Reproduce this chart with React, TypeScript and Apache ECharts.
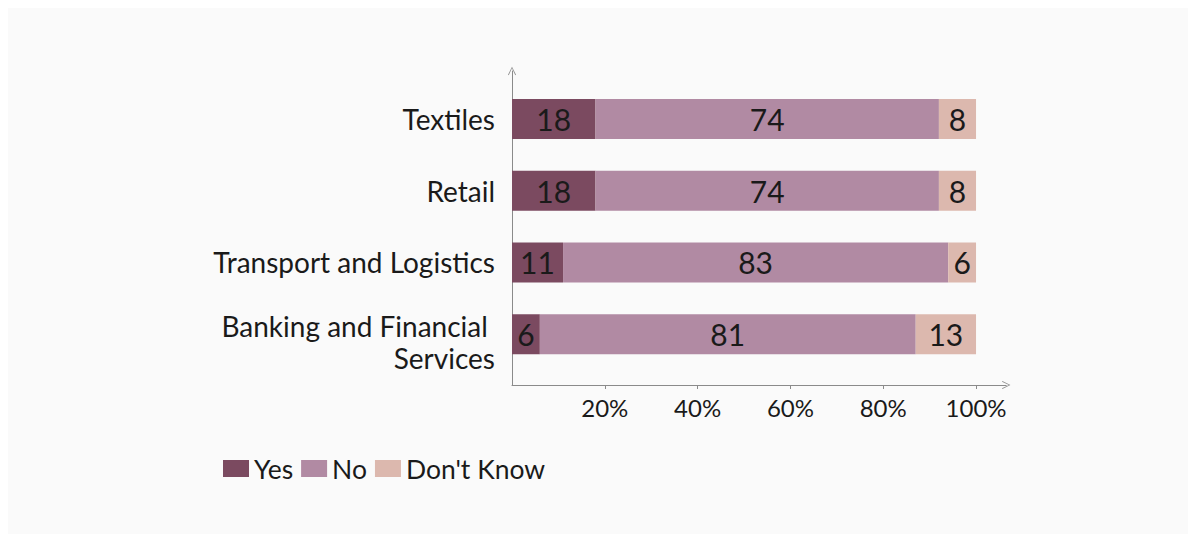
import React, { useEffect, useRef } from "react";
import * as echarts from "echarts";

const categories = ["Textiles", "Retail", "Transport and Logistics", "Banking and Financial \nServices"];
const yesValues = [18, 18, 11, 6];
const noValues = [74, 74, 83, 81];
const dontKnowValues = [8, 8, 6, 13];
const seriesNames = ["Yes", "No", "Don't Know"];
const xTickValues = [20, 40, 60, 80, 100];

const colors = ["#7b4a60", "#b18aa3", "#dcb8ae"];
const FONT = "Lato";
const AXIS_COLOR = "#8a8a8a";
const ARROW = "path://M0,10 L5,0 L10,10 L9.1,10.5 L5,1.9 L0.9,10.5 Z";

export default function App() {
  const ref = useRef<HTMLDivElement>(null);
  useEffect(() => {
    if (!ref.current) return;
    const chart = echarts.init(ref.current, null, { renderer: "svg" });
    const gridLeft = 504;
    const gridWidth = 494.2;
    const xMax = 106.5;
    const allValues = [yesValues, noValues, dontKnowValues];
    chart.setOption({
      animation: false,
      backgroundColor: "#fafafa",
      textStyle: { fontFamily: FONT },
      color: colors,
      grid: [
        { left: gridLeft, top: 75, width: gridWidth, height: 287 },
        { left: gridLeft, top: 63, width: gridWidth, height: 314 },
      ],
      legend: {
        data: seriesNames,
        left: 215,
        top: 447,
        padding: 0,
        icon: "rect",
        itemWidth: 26,
        itemHeight: 17,
        itemGap: 8,
        textStyle: { fontSize: 26.5, color: "#1a1a1a", fontFamily: FONT },
      },
      xAxis: [
        { gridIndex: 0, type: "value", min: 0, max: xMax, show: false },
        {
          gridIndex: 1,
          type: "value",
          min: 0,
          max: xMax,
          axisLine: {
            show: true,
            onZero: false,
            symbol: ["none", ARROW],
            symbolSize: [8, 10],
            lineStyle: { color: AXIS_COLOR, width: 1 },
          },
          axisTick: { show: true, length: 4, customValues: xTickValues, lineStyle: { color: AXIS_COLOR } },
          axisLabel: {
            customValues: xTickValues,
            formatter: "{value}%",
            fontSize: 24,
            color: "#1a1a1a",
            margin: 10,
            fontFamily: FONT,
          },
          splitLine: { show: false },
        },
        {
          gridIndex: 1,
          type: "value",
          min: 0,
          max: xMax,
          axisLine: { show: false },
          axisTick: { show: true, inside: true, length: 4, customValues: xTickValues, lineStyle: { color: AXIS_COLOR } },
          axisLabel: { show: false },
          splitLine: { show: false },
        },
      ],
      yAxis: [
        {
          gridIndex: 0,
          type: "category",
          inverse: true,
          data: categories,
          axisLine: { show: false },
          axisTick: { show: false },
          axisLabel: {
            margin: 17,
            fontSize: 28,
            color: "#1a1a1a",
            fontFamily: FONT,
            formatter: (v: string) => {
              if (v.indexOf("\n") >= 0) {
                const parts = v.split("\n");
                return "{s| }\n" + parts.map((p) => "{b|" + p + "}").join("\n");
              }
              return v;
            },
            rich: {
              s: { fontSize: 10, lineHeight: 16 },
              b: { fontSize: 28, lineHeight: 32, color: "#1a1a1a", fontFamily: FONT },
            },
          },
        },
        {
          gridIndex: 1,
          type: "value",
          min: 0,
          max: 1,
          axisLine: {
            show: true,
            onZero: false,
            symbol: ["none", ARROW],
            symbolSize: [8, 10],
            lineStyle: { color: AXIS_COLOR, width: 1 },
          },
          axisTick: { show: false },
          axisLabel: { show: false },
          splitLine: { show: false },
        },
      ],
      series: seriesNames.map((name, i) => ({
        name,
        type: "bar",
        stack: "total",
        xAxisIndex: 0,
        yAxisIndex: 0,
        barWidth: 40,
        data: allValues[i],
        itemStyle: { color: colors[i] },
        label: {
          show: true,
          position: "inside",
          fontSize: 30,
          color: "#1a1a1a",
          fontFamily: FONT,
        },
      })),
    });
    return () => chart.dispose();
  }, []);
  return <div ref={ref} style={{ width: 1180, height: 526 }} />;
}
